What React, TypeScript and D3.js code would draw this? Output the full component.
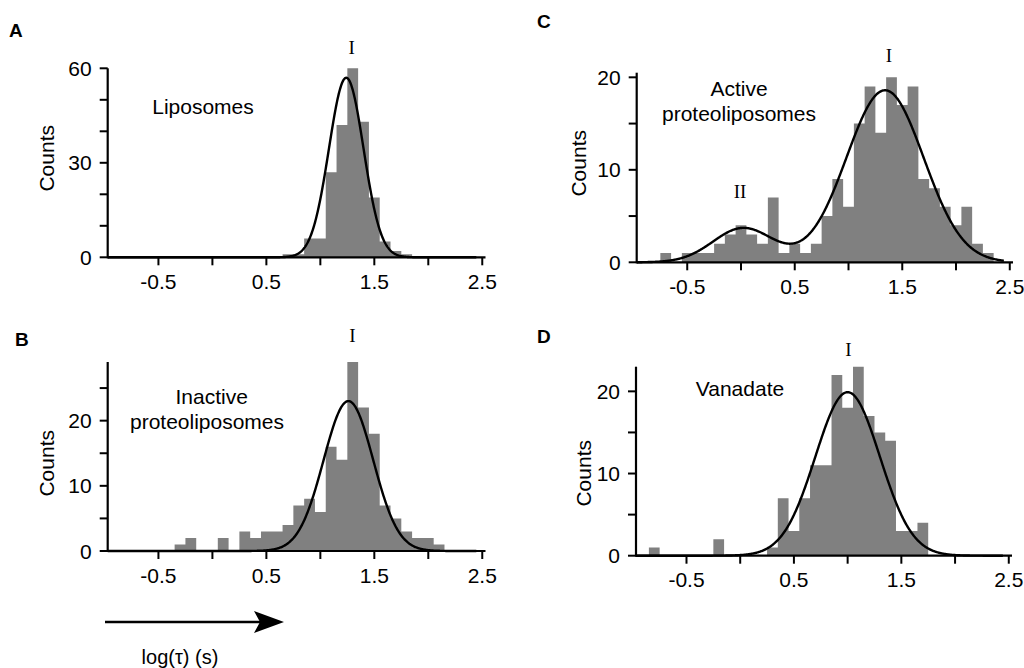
import React from "react";
import * as d3 from "d3";

// bin width of all four histograms, in log(tau) units
const BIN_WIDTH = 0.1;
const X_DOMAIN: [number, number] = [-0.97, 2.53];
const X_LABELED = [-0.5, 0.5, 1.5, 2.5];
const X_MINOR = [0, 1, 2];
const X_TICK_TEXT = ["-0.5", "0.5", "1.5", "2.5"];

// A: liposomes
const liposomesStart = 0.65;
const liposomesCounts = [1, 1, 6, 6, 27, 42, 60, 43, 19, 5, 2, 1];
const liposomesFit = [{ mu: 1.24, sigma: 0.16, amp: 57 }];

// B: inactive proteoliposomes
const inactiveStart = -0.35;
const inactiveCounts = [1, 2, 0, 0, 2, 0, 3, 2, 3, 3, 4, 7, 8, 6, 16, 14, 29, 22, 18, 7, 5, 3, 2, 2, 1];
const inactiveFit = [{ mu: 1.26, sigma: 0.23, amp: 23 }];

// C: active proteoliposomes
const activeStart = -0.75;
const activeCounts = [1, 0, 1, 1, 1, 2, 3, 4, 3, 2, 7, 1, 2, 1, 2, 5, 9, 6, 15, 19, 14, 20, 17, 19, 9, 8, 6, 4, 6, 2, 1];
const activeFit = [
  { mu: 1.34, sigma: 0.36, amp: 18.6 },
  { mu: 0.02, sigma: 0.28, amp: 3.7 },
];

// D: vanadate
const vanadateStart = -0.85;
const vanadateCounts = [1, 0, 0, 0, 0, 0, 2, 0, 0, 0, 0, 1, 7, 3, 7, 11, 11, 22, 18, 23, 17, 15, 14, 3, 3, 4];
const vanadateFit = [{ mu: 1.0, sigma: 0.3, amp: 19.9 }];

const SANS = "'Liberation Sans', Arial, Helvetica, sans-serif";
const SERIF = "'Liberation Serif', 'Times New Roman', serif";
const BAR = "#808080";
const FS = 21;

type Peak = { mu: number; sigma: number; amp: number };
type Note = { text: string; x: number; y: number };

const panels = [
  {
    letter: "A", lx: 9, ly: 37,
    frame: { left: 107.7, right: 485.5, top: 68.3, bottom: 257.3 },
    yMax: 60, yLabeled: [0, 30, 60], yMinor: [10, 20, 40, 50],
    start: liposomesStart, counts: liposomesCounts, fit: liposomesFit,
    countsAt: [46.7, 158.3],
    notes: [{ text: "Liposomes", x: 203, y: 106 }] as Note[],
    roman: [{ text: "I", x: 351.7, y: 47 }] as Note[],
  },
  {
    letter: "B", lx: 15, ly: 346,
    frame: { left: 107.7, right: 485.5, top: 362, bottom: 551 },
    yMax: 29, yLabeled: [0, 10, 20], yMinor: [5, 15, 25],
    start: inactiveStart, counts: inactiveCounts, fit: inactiveFit,
    countsAt: [46.7, 463.3],
    notes: [
      { text: "Inactive", x: 211.7, y: 396.7 },
      { text: "proteoliposomes", x: 207, y: 421.7 },
    ] as Note[],
    roman: [{ text: "I", x: 352.3, y: 335 }] as Note[],
  },
  {
    letter: "C", lx: 537, ly: 28,
    frame: { left: 636.7, right: 1013, top: 72.7, bottom: 262.3 },
    yMax: 20.5, yLabeled: [0, 10, 20], yMinor: [5, 15],
    start: activeStart, counts: activeCounts, fit: activeFit,
    countsAt: [578.3, 163.3],
    notes: [
      { text: "Active", x: 739, y: 88.3 },
      { text: "proteoliposomes", x: 739, y: 113.3 },
    ] as Note[],
    roman: [
      { text: "I", x: 889, y: 55 },
      { text: "II", x: 740, y: 191.7 },
    ] as Note[],
  },
  {
    letter: "D", lx: 537, ly: 343,
    frame: { left: 636, right: 1012, top: 366.7, bottom: 555.7 },
    yMax: 23, yLabeled: [0, 10, 20], yMinor: [5, 15],
    start: vanadateStart, counts: vanadateCounts, fit: vanadateFit,
    countsAt: [583.3, 473.3],
    notes: [{ text: "Vanadate", x: 740, y: 388.3 }] as Note[],
    roman: [{ text: "I", x: 848.3, y: 349.3 }] as Note[],
  },
];

function Panel({ p }: { p: (typeof panels)[number] }) {
  const { frame } = p;
  const x = d3.scaleLinear().domain(X_DOMAIN).range([frame.left, frame.right]);
  const y = d3.scaleLinear().domain([0, p.yMax]).range([frame.bottom, frame.top]);

  // histogram drawn as one stepped area so neighbouring bars have no seams
  const bins = p.counts.map((c, i) => ({ x0: p.start + i * BIN_WIDTH, count: c }));
  bins.push({ x0: p.start + p.counts.length * BIN_WIDTH, count: 0 });
  const hist = d3
    .area<{ x0: number; count: number }>()
    .x((d) => x(d.x0))
    .y0(y(0))
    .y1((d) => y(d.count))
    .curve(d3.curveStepAfter)(bins);

  const fitAt = (v: number) =>
    d3.sum(p.fit, (k: Peak) => k.amp * Math.exp(-((v - k.mu) ** 2) / (2 * k.sigma * k.sigma)));
  const samples = d3.range(X_DOMAIN[0], 2.45, 0.005);
  const curve = d3
    .line<number>()
    .x((v) => x(v))
    .y((v) => y(fitAt(v)))(samples);

  return (
    <g>
      <text x={p.lx} y={p.ly} fontFamily={SANS} fontWeight="bold" fontSize={19}>
        {p.letter}
      </text>
      <path d={hist ?? ""} fill={BAR} />
      {/* axes */}
      <line x1={x.range()[0]} x2={x.range()[1]} y1={y(0)} y2={y(0)} stroke="#000" strokeWidth={2.2} />
      <line x1={x.range()[0]} x2={x.range()[0]} y1={y(0) + 1} y2={frame.top} stroke="#000" strokeWidth={2.2} />
      {[...X_LABELED, ...X_MINOR].map((t) => (
        <line key={"xt" + t} x1={x(t)} x2={x(t)} y1={y(0)} y2={y(0) + 8} stroke="#000" strokeWidth={2} />
      ))}
      {X_LABELED.map((t, i) => (
        <text
          key={"xl" + t}
          x={x(t)}
          y={y(0) + 24}
          textAnchor="middle"
          dominantBaseline="central"
          fontFamily={SANS}
          fontSize={FS}
        >
          {X_TICK_TEXT[i]}
        </text>
      ))}
      {[...p.yLabeled, ...p.yMinor].map((t) => (
        <line key={"yt" + t} x1={frame.left - 8} x2={frame.left} y1={y(t)} y2={y(t)} stroke="#000" strokeWidth={2} />
      ))}
      {p.yLabeled.map((t) => (
        <text
          key={"yl" + t}
          x={frame.left - 16}
          y={y(t)}
          textAnchor="end"
          dominantBaseline="central"
          fontFamily={SANS}
          fontSize={FS}
        >
          {t}
        </text>
      ))}
      <text
        transform={`translate(${p.countsAt[0]},${p.countsAt[1]}) rotate(-90)`}
        textAnchor="middle"
        dominantBaseline="central"
        fontFamily={SANS}
        fontSize={FS}
      >
        Counts
      </text>
      <path d={curve ?? ""} fill="none" stroke="#000" strokeWidth={2.4} />
      {p.notes.map((n) => (
        <text key={n.text} x={n.x} y={n.y} textAnchor="middle" dominantBaseline="central" fontFamily={SANS} fontSize={FS}>
          {n.text}
        </text>
      ))}
      {p.roman.map((n) => (
        <text key={n.text} x={n.x} y={n.y} textAnchor="middle" dominantBaseline="central" fontFamily={SERIF} fontSize={19}>
          {n.text}
        </text>
      ))}
    </g>
  );
}

export default function App() {
  return (
    <svg
      width={1024}
      height={668}
      style={{ position: "absolute", left: 0, top: 0, background: "#fff" }}
    >
      <rect width={1024} height={668} fill="#fff" />
      {panels.map((p) => (
        <Panel key={p.letter} p={p} />
      ))}
      {/* direction arrow under panel B */}
      <line x1={105} x2={262} y1={622} y2={622} stroke="#000" strokeWidth={2.5} />
      <path d="M284,622 L254,611 L260,622 L254,633 Z" fill="#000" />
      <text x={180} y={657} textAnchor="middle" dominantBaseline="central" fontFamily={SANS} fontSize={20}>
        log(τ) (s)
      </text>
    </svg>
  );
}
